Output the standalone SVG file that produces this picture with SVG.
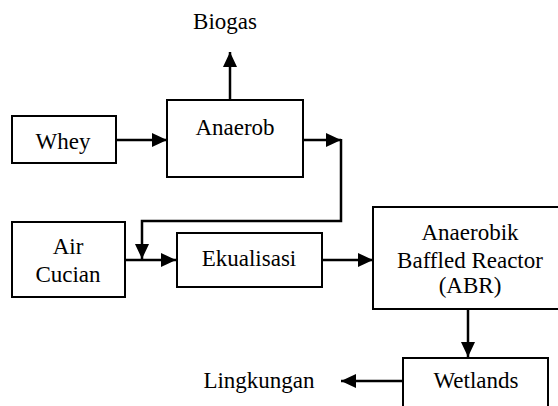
<svg xmlns="http://www.w3.org/2000/svg" width="558" height="406" viewBox="0 0 558 406">
<style>
.box{fill:#fff;stroke:#000;stroke-width:2}
.ln{fill:none;stroke:#000;stroke-width:2.5}
.t{font-family:'Liberation Serif','Times New Roman',serif;font-size:23px;fill:#000;text-anchor:middle}
</style>
<defs>
<marker id="ah" markerWidth="15" markerHeight="14" refX="15" refY="7" orient="auto" markerUnits="userSpaceOnUse">
<path d="M0,0 L15,7 L0,14 Z" fill="#000"/>
</marker>
</defs>
<g id="biogas"><text class="t" x="225" y="29">Biogas</text></g>
<g id="whey"><rect class="box" x="12" y="116" width="104" height="47"/><text class="t" x="63" y="149">Whey</text></g>
<g id="anaerob"><rect class="box" x="167" y="100" width="136" height="77"/><text class="t" x="235" y="135">Anaerob</text></g>
<g id="air-cucian"><rect class="box" x="12" y="222" width="113" height="75"/><text class="t" x="68" y="254">Air</text><text class="t" x="68" y="282">Cucian</text></g>
<g id="ekualisasi"><rect class="box" x="177" y="233" width="145" height="54"/><text class="t" x="249" y="266">Ekualisasi</text></g>
<g id="abr"><rect class="box" x="373" y="207" width="190" height="102"/><text class="t" x="470" y="240">Anaerobik</text><text class="t" x="470" y="268">Baffled Reactor</text><text class="t" x="470" y="293">(ABR)</text></g>
<g id="wetlands"><rect class="box" x="403" y="358" width="145" height="52"/><text class="t" x="476" y="388">Wetlands</text></g>
<g id="lingkungan"><text class="t" x="259" y="388">Lingkungan</text></g>
<g id="connectors">
<line class="ln" x1="230" y1="100" x2="230" y2="52" marker-end="url(#ah)"/>
<line class="ln" x1="116" y1="140" x2="167" y2="140" marker-end="url(#ah)"/>
<line class="ln" x1="303" y1="140" x2="341" y2="140" marker-end="url(#ah)"/>
<polyline class="ln" points="341,139 341,221 142,221 142,259" marker-end="url(#ah)"/>
<line class="ln" x1="125" y1="260" x2="176" y2="260" marker-end="url(#ah)"/>
<line class="ln" x1="322" y1="260" x2="373" y2="260" marker-end="url(#ah)"/>
<line class="ln" x1="468" y1="309" x2="468" y2="357" marker-end="url(#ah)"/>
<line class="ln" x1="403" y1="381" x2="341" y2="381" marker-end="url(#ah)"/>
</g>
</svg>
